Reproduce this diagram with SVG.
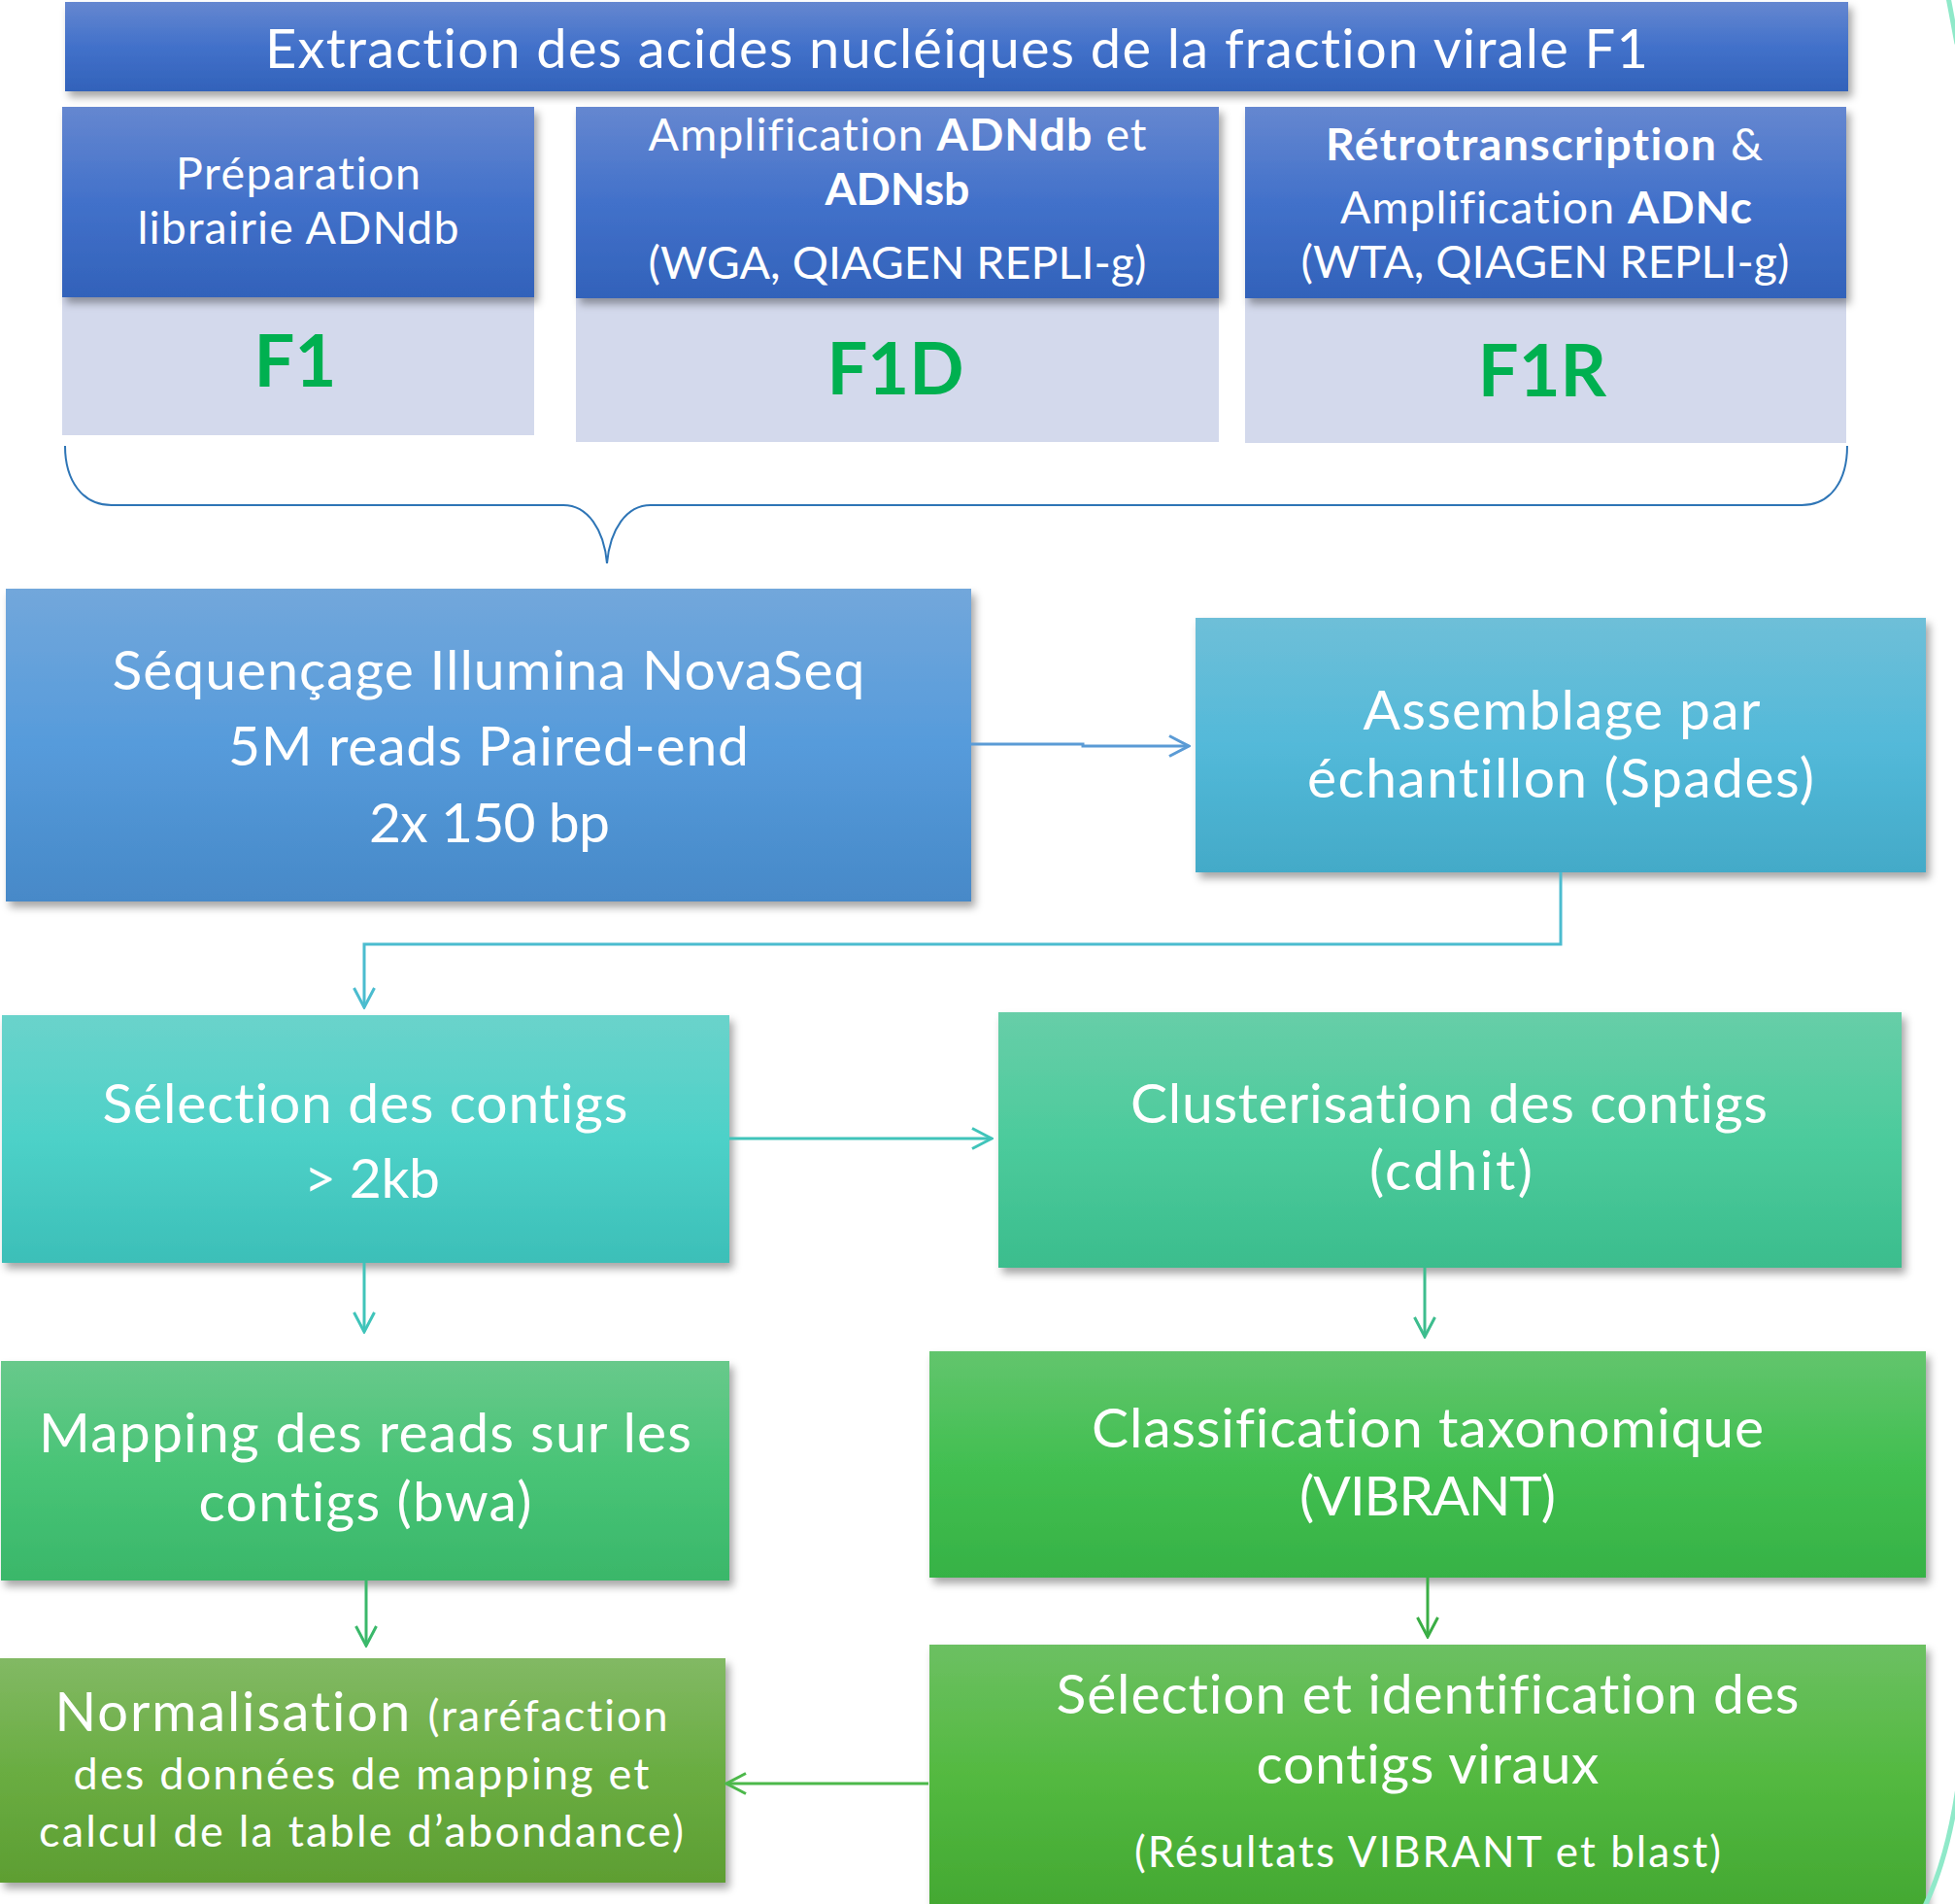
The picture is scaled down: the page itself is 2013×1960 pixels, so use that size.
<svg xmlns="http://www.w3.org/2000/svg" width="2013" height="1960" viewBox="0 0 2013 1960">
<defs>
<filter id="sh" x="-5%" y="-5%" width="112%" height="120%">
<feDropShadow dx="4" dy="6" stdDeviation="4" flood-color="#000" flood-opacity="0.35"/>
</filter>
<linearGradient id="gBlue" x1="0" y1="0" x2="0" y2="1"><stop offset="0" stop-color="#6587d0"/><stop offset="0.5" stop-color="#4271ca"/><stop offset="1" stop-color="#3262ba"/></linearGradient>
<linearGradient id="gSeq" x1="0" y1="0" x2="0" y2="1"><stop offset="0" stop-color="#72a7db"/><stop offset="0.5" stop-color="#569bdb"/><stop offset="1" stop-color="#4789c8"/></linearGradient>
<linearGradient id="gAsm" x1="0" y1="0" x2="0" y2="1"><stop offset="0" stop-color="#6ebfd8"/><stop offset="0.5" stop-color="#53b9d9"/><stop offset="1" stop-color="#43aac8"/></linearGradient>
<linearGradient id="gSel" x1="0" y1="0" x2="0" y2="1"><stop offset="0" stop-color="#6ad3cb"/><stop offset="0.5" stop-color="#4dd1c8"/><stop offset="1" stop-color="#3cbfb8"/></linearGradient>
<linearGradient id="gClu" x1="0" y1="0" x2="0" y2="1"><stop offset="0" stop-color="#67cea8"/><stop offset="0.5" stop-color="#4ccb9c"/><stop offset="1" stop-color="#3bbd8d"/></linearGradient>
<linearGradient id="gMap" x1="0" y1="0" x2="0" y2="1"><stop offset="0" stop-color="#68c98b"/><stop offset="0.5" stop-color="#48c476"/><stop offset="1" stop-color="#3ab76a"/></linearGradient>
<linearGradient id="gCla" x1="0" y1="0" x2="0" y2="1"><stop offset="0" stop-color="#62c56d"/><stop offset="0.5" stop-color="#42bf51"/><stop offset="1" stop-color="#36b245"/></linearGradient>
<linearGradient id="gVir" x1="0" y1="0" x2="0" y2="1"><stop offset="0" stop-color="#6cc062"/><stop offset="0.5" stop-color="#53b940"/><stop offset="1" stop-color="#43a832"/></linearGradient>
<linearGradient id="gNor" x1="0" y1="0" x2="0" y2="1"><stop offset="0" stop-color="#82b964"/><stop offset="0.5" stop-color="#6aad42"/><stop offset="1" stop-color="#5d9e32"/></linearGradient>
<marker id="aBlue" markerUnits="userSpaceOnUse" viewBox="0 0 24 24" refX="22" refY="12" markerWidth="24" markerHeight="24" orient="auto"><path d="M2,1.5 L22,12 L2,22.5" fill="none" stroke="#5b9bd5" stroke-width="3"/></marker>
<marker id="aTeal" markerUnits="userSpaceOnUse" viewBox="0 0 24 24" refX="22" refY="12" markerWidth="24" markerHeight="24" orient="auto"><path d="M2,1.5 L22,12 L2,22.5" fill="none" stroke="#4bbccf" stroke-width="3"/></marker>
<marker id="aTurq" markerUnits="userSpaceOnUse" viewBox="0 0 24 24" refX="22" refY="12" markerWidth="24" markerHeight="24" orient="auto"><path d="M2,1.5 L22,12 L2,22.5" fill="none" stroke="#40c4ba" stroke-width="3"/></marker>
<marker id="aMint" markerUnits="userSpaceOnUse" viewBox="0 0 24 24" refX="22" refY="12" markerWidth="24" markerHeight="24" orient="auto"><path d="M2,1.5 L22,12 L2,22.5" fill="none" stroke="#3dbd8e" stroke-width="3"/></marker>
<marker id="aGrn1" markerUnits="userSpaceOnUse" viewBox="0 0 24 24" refX="22" refY="12" markerWidth="24" markerHeight="24" orient="auto"><path d="M2,1.5 L22,12 L2,22.5" fill="none" stroke="#3ab86a" stroke-width="3"/></marker>
<marker id="aGrn2" markerUnits="userSpaceOnUse" viewBox="0 0 24 24" refX="22" refY="12" markerWidth="24" markerHeight="24" orient="auto"><path d="M2,1.5 L22,12 L2,22.5" fill="none" stroke="#3aae45" stroke-width="3"/></marker>
<marker id="aGrn3" markerUnits="userSpaceOnUse" viewBox="0 0 24 24" refX="22" refY="12" markerWidth="24" markerHeight="24" orient="auto"><path d="M2,1.5 L22,12 L2,22.5" fill="none" stroke="#4cb84a" stroke-width="3"/></marker>
</defs>
<style>
text{font-family:Lato,"Open Sans","Liberation Sans",sans-serif;fill:#fff;text-anchor:middle;font-variant-ligatures:none;font-feature-settings:"liga" 0,"dlig" 0}
.t45{font-size:46.5px}
.t55{font-size:57px}
.b{font-weight:bold}
.code{font-size:74px;font-weight:bold;fill:#00b050}
.light{fill:#d3d9ec}
.conn{fill:none;stroke-width:3}
</style>
<rect width="2013" height="1960" fill="#fff"/>

<g id="banner">
<rect x="67" y="2" width="1836" height="92" fill="url(#gBlue)" filter="url(#sh)"/>
<text x="985" y="70" style="font-size:56px" textLength="1424">Extraction des acides nucléiques de la fraction virale F1</text>
</g>

<g id="box-f1">
<rect class="light" x="64" y="300" width="486" height="148"/>
<rect x="64" y="110" width="486" height="196" fill="url(#gBlue)" filter="url(#sh)"/>
<text class="t45" x="307" y="195" textLength="252">Préparation</text>
<text class="t45" x="307" y="251" textLength="331">librairie ADNdb</text>
<text class="code" x="304" y="398">F1</text>
</g>

<g id="box-f1d">
<rect class="light" x="593" y="300" width="662" height="155"/>
<rect x="593" y="110" width="662" height="197" fill="url(#gBlue)" filter="url(#sh)"/>
<text class="t45" x="924" y="155" textLength="513">Amplification <tspan class="b">ADNdb</tspan> et</text>
<text class="t45 b" x="924" y="211" textLength="149">ADNsb</text>
<text class="t45" x="924" y="287" textLength="513">(WGA, QIAGEN REPLI-g)</text>
<text class="code" x="922" y="406">F1D</text>
</g>

<g id="box-f1r">
<rect class="light" x="1282" y="300" width="619" height="156"/>
<rect x="1282" y="110" width="619" height="197" fill="url(#gBlue)" filter="url(#sh)"/>
<text class="t45" x="1590" y="165" textLength="450"><tspan class="b">Rétrotranscription</tspan> &amp;</text>
<text class="t45" x="1592" y="230" textLength="424">Amplification <tspan class="b">ADNc</tspan></text>
<text class="t45" x="1591" y="286" textLength="503">(WTA, QIAGEN REPLI-g)</text>
<text class="code" x="1588" y="408">F1R</text>
</g>

<g id="seq">
<rect x="6" y="606" width="994" height="322" fill="url(#gSeq)" filter="url(#sh)"/>
<text class="t55" x="503" y="710" textLength="775">Séquençage Illumina NovaSeq</text>
<text class="t55" x="503" y="788" textLength="536">5M reads Paired-end</text>
<text class="t55" x="504" y="867" textLength="248">2x 150 bp</text>
</g>

<g id="assemblage">
<rect x="1231" y="636" width="752" height="262" fill="url(#gAsm)" filter="url(#sh)"/>
<text class="t55" x="1608" y="751" textLength="409">Assemblage par</text>
<text class="t55" x="1607" y="821" textLength="522">échantillon (Spades)</text>
</g>

<g id="selection">
<rect x="2" y="1045" width="749" height="255" fill="url(#gSel)" filter="url(#sh)"/>
<text class="t55" x="376" y="1156" textLength="541">Sélection des contigs</text>
<text class="t55" x="383" y="1233" textLength="140">&gt; 2kb</text>
</g>

<g id="clusterisation">
<rect x="1028" y="1042" width="930" height="263" fill="url(#gClu)" filter="url(#sh)"/>
<text class="t55" x="1492" y="1156" textLength="656">Clusterisation des contigs</text>
<text class="t55" x="1494" y="1225" textLength="168">(cdhit)</text>
</g>

<g id="mapping">
<rect x="1" y="1401" width="750" height="226" fill="url(#gMap)" filter="url(#sh)"/>
<text class="t55" x="376" y="1495" textLength="672">Mapping des reads sur les</text>
<text class="t55" x="376" y="1566" textLength="343">contigs (bwa)</text>
</g>

<g id="classification">
<rect x="957" y="1391" width="1026" height="233" fill="url(#gCla)" filter="url(#sh)"/>
<text class="t55" x="1470" y="1490" textLength="692">Classification taxonomique</text>
<text class="t55" x="1470" y="1560" textLength="264">(VIBRANT)</text>
</g>

<g id="viraux">
<rect x="957" y="1693" width="1026" height="272" fill="url(#gVir)" filter="url(#sh)"/>
<text class="t55" x="1470" y="1764" textLength="765">Sélection et identification des</text>
<text class="t55" x="1470" y="1836" textLength="353">contigs viraux</text>
<text x="1470" y="1922" style="font-size:44px" textLength="604">(Résultats VIBRANT et blast)</text>
</g>

<g id="normalisation">
<rect x="0" y="1707" width="747" height="231" fill="url(#gNor)" filter="url(#sh)"/>
<text x="372" y="1782" style="font-size:56px" textLength="631">Normalisation <tspan style="font-size:45px">(raréfaction</tspan></text>
<text x="372" y="1842" style="font-size:45px" textLength="593">des données de mapping et</text>
<text x="372" y="1901" style="font-size:45px" textLength="664">calcul de la table d’abondance)</text>
</g>

<g id="connectors">
<path d="M67,459 C67,495 85,520 115,520 L580,520 C605,520 622,545 625,580 C628,545 645,520 670,520 L1855,520 C1885,520 1902,495 1902,459" fill="none" stroke="#2e75b6" stroke-width="2"/>
<path class="conn" d="M1000,766 H1115 V768 H1224" stroke="#5b9bd5" marker-end="url(#aBlue)"/>
<path class="conn" d="M1607,898 V972 H375 V1037" stroke="#4bbccf" marker-end="url(#aTeal)"/>
<path class="conn" d="M751,1172 H1021" stroke="#40c4ba" marker-end="url(#aTurq)"/>
<path class="conn" d="M375,1300 V1371" stroke="#40c4ba" marker-end="url(#aTurq)"/>
<path class="conn" d="M1467,1305 V1376" stroke="#3dbd8e" marker-end="url(#aMint)"/>
<path class="conn" d="M377,1627 V1694" stroke="#3ab86a" marker-end="url(#aGrn1)"/>
<path class="conn" d="M1470,1624 V1685" stroke="#3aae45" marker-end="url(#aGrn2)"/>
<path class="conn" d="M956,1836 H748" stroke="#4cb84a" marker-end="url(#aGrn3)"/>
</g>

<g id="arc">
<path d="M2006,-3 L2015,45" fill="none" stroke="#8fe9c9" stroke-width="5"/>
<path d="M2016,1840 Q2005,1915 1981,1964" fill="none" stroke="#8fe9c9" stroke-width="5"/>
</g>
</svg>
